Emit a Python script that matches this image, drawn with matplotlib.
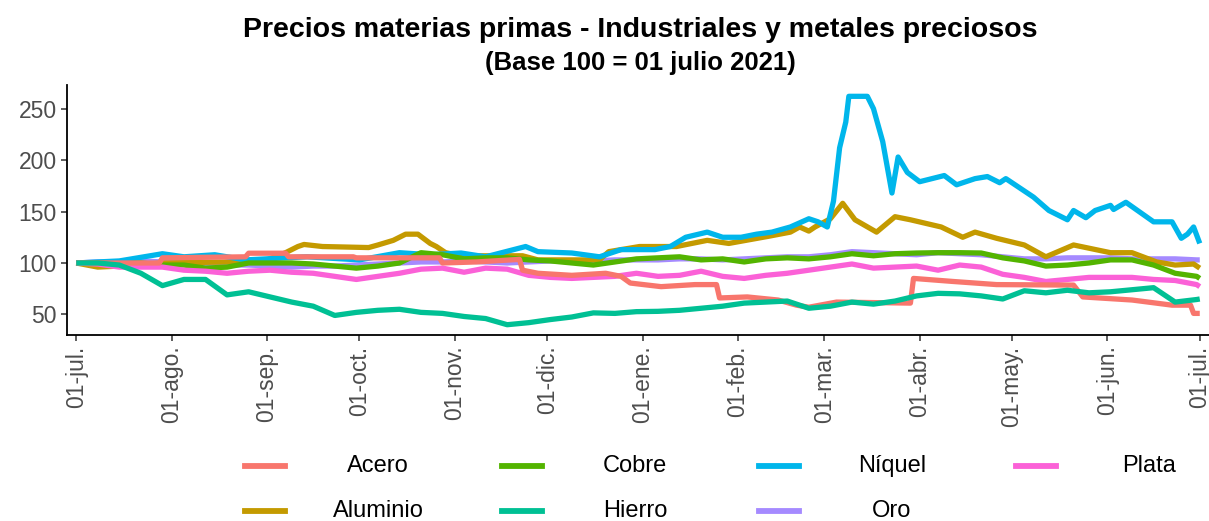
import pandas as pd
import matplotlib
matplotlib.use("Agg")
import matplotlib.pyplot as plt
from matplotlib.lines import Line2D

plt.rcParams['font.family'] = ['Liberation Sans', 'DejaVu Sans']

# ---- datos (base 100 = 01-jul-2021) ----
fechas_semana = list(pd.date_range('2021-07-01', periods=53, freq='7D')) + [pd.Timestamp('2022-07-01')]

hierro = [100, 100, 98, 90, 78, 84, 84, 69, 72, 67,
          62, 58, 49, 52, 54, 55, 52, 51, 48, 46,
          40, 42, 45, 47.5, 51.5, 51, 52.7, 53, 54, 56,
          58, 61, 62, 63, 56, 58, 62, 60, 63, 68,
          70.5, 70, 68, 65, 73, 71, 73.5, 71, 72, 74,
          76, 62, 64.5, 65]

cobre = [100, 100, 99, 100, 98, 98, 95, 96, 100, 100,
         100, 99, 97, 95, 97, 100, 110, 108, 104, 105,
         105, 103, 102, 100, 98, 101, 104, 105, 106, 103,
         104, 101, 104, 105, 104, 106, 109, 107, 109, 109.7,
         110, 110, 109.7, 105, 102, 97, 98, 100, 103, 103,
         98, 90, 87, 85]

oro = [100, 101, 101, 102, 101, 100, 99, 98, 98, 97,
       96, 97, 97, 98, 99, 100, 101, 101, 102, 101,
       100, 101, 102, 102, 102, 103, 103, 103, 104, 104,
       103, 104, 105, 106, 106, 108, 111, 110, 109, 108,
       110, 109, 108, 106, 104, 104, 105, 105, 105, 104,
       104, 104, 103, 103]

plata = [100, 99, 96, 96, 96, 93, 92, 90, 92, 93,
         91, 90, 87, 84, 87, 90, 94, 95, 91, 95,
         94, 88, 86, 85, 86, 87, 90, 87, 88, 92,
         87, 85, 88, 90, 93, 96, 99, 95, 96, 97,
         93, 98, 96, 89, 86, 82, 84, 86, 86, 86,
         84, 83, 79, 77]

fechas_acero = ['2021-07-01', '2021-07-28', '2021-07-29', '2021-08-25', '2021-08-26',
                '2021-09-07', '2021-09-08', '2021-09-29', '2021-09-30', '2021-10-27',
                '2021-10-28', '2021-11-08', '2021-11-22', '2021-11-23', '2021-11-28',
                '2021-12-09', '2021-12-20', '2021-12-25', '2021-12-28', '2022-01-07',
                '2022-01-18', '2022-01-25', '2022-01-26', '2022-02-04', '2022-02-14',
                '2022-02-20', '2022-02-24', '2022-03-05', '2022-03-29', '2022-03-30',
                '2022-04-12', '2022-04-26', '2022-05-21', '2022-05-24', '2022-06-09',
                '2022-06-22', '2022-06-28', '2022-06-29', '2022-07-01']
acero = [100, 100, 105, 106, 109.5,
         109.5, 106, 106, 105, 105,
         100, 101, 103.5, 93, 90,
         88, 90, 87, 80.5, 77,
         79, 79, 66, 67, 64,
         59, 57, 62, 61, 85,
         82, 79, 78.5, 67, 64,
         59, 59, 51, 51]

fechas_aluminio = ['2021-07-01', '2021-07-08', '2021-07-15', '2021-07-29', '2021-08-20',
                   '2021-09-01', '2021-09-07', '2021-09-11', '2021-09-13', '2021-09-19',
                   '2021-10-04', '2021-10-07', '2021-10-12', '2021-10-16', '2021-10-20',
                   '2021-10-24', '2021-10-26', '2021-10-29', '2021-11-03', '2021-11-23',
                   '2021-11-28', '2021-12-18', '2021-12-21', '2021-12-31', '2022-01-12',
                   '2022-01-22', '2022-01-29', '2022-02-11', '2022-02-18', '2022-02-21',
                   '2022-02-24', '2022-02-26', '2022-03-03', '2022-03-07', '2022-03-09',
                   '2022-03-11', '2022-03-18', '2022-03-24', '2022-03-29', '2022-04-08',
                   '2022-04-15', '2022-04-19', '2022-04-26', '2022-05-05', '2022-05-12',
                   '2022-05-21', '2022-06-02', '2022-06-09', '2022-06-17', '2022-06-23',
                   '2022-06-29', '2022-07-01']
aluminio = [100, 96, 97, 100, 101,
            103, 110, 116, 118, 116,
            115, 117.5, 122, 128, 128,
            119, 116, 110, 107, 107,
            103, 103, 111, 116, 116,
            122, 119, 126, 130, 135,
            131, 135, 143, 158, 150,
            142, 130, 145, 142, 135,
            125, 130, 124, 117.5, 106,
            117.5, 110, 110, 101, 98,
            99, 95]

fechas_niquel = ['2021-07-01', '2021-07-15', '2021-07-29', '2021-08-05', '2021-08-15',
                 '2021-08-25', '2021-09-14', '2021-10-01', '2021-10-14', '2021-10-24',
                 '2021-11-03', '2021-11-11', '2021-11-24', '2021-11-28', '2021-12-09',
                 '2021-12-18', '2021-12-25', '2022-01-05', '2022-01-10', '2022-01-15',
                 '2022-01-22', '2022-01-27', '2022-02-02', '2022-02-07', '2022-02-12',
                 '2022-02-18', '2022-02-24', '2022-02-27', '2022-03-02', '2022-03-04',
                 '2022-03-06', '2022-03-08', '2022-03-09', '2022-03-15', '2022-03-17',
                 '2022-03-20', '2022-03-23', '2022-03-25', '2022-03-28', '2022-04-01',
                 '2022-04-09', '2022-04-13', '2022-04-19', '2022-04-23', '2022-04-27',
                 '2022-04-29', '2022-05-08', '2022-05-13', '2022-05-19', '2022-05-21',
                 '2022-05-25', '2022-05-28', '2022-06-02', '2022-06-03', '2022-06-07',
                 '2022-06-16', '2022-06-22', '2022-06-25', '2022-06-27', '2022-06-29',
                 '2022-07-01']
niquel = [100, 102, 109, 106, 108,
          103, 106, 103, 110, 108,
          109.7, 106, 116, 111, 109.7,
          106, 113, 113, 116, 125,
          130, 125, 125, 128, 130,
          135, 143, 140, 135, 160,
          212, 237, 262, 262, 250,
          218, 168, 203, 188, 179,
          185, 176, 182, 184, 178,
          182, 164, 151, 142, 151,
          144, 151, 156, 152, 159,
          140, 140, 124, 128, 135,
          119]

ticks_fechas = pd.date_range('2021-07-01', '2022-07-01', freq='MS')
ticks_etiquetas = ['01-jul.', '01-ago.', '01-sep.', '01-oct.', '01-nov.', '01-dic.', '01-ene.',
                   '01-feb.', '01-mar.', '01-abr.', '01-may.', '01-jun.', '01-jul.']

# (nombre, fechas, valores, color, orden de dibujo)
series = [
    ('Acero', pd.to_datetime(fechas_acero), acero, '#F8766D', 6),
    ('Aluminio', pd.to_datetime(fechas_aluminio), aluminio, '#C49A00', 2),
    ('Cobre', fechas_semana, cobre, '#53B400', 4),
    ('Hierro', fechas_semana, hierro, '#00C094', 7),
    ('Níquel', pd.to_datetime(fechas_niquel), niquel, '#00B6EB', 3),
    ('Oro', fechas_semana, oro, '#A58AFF', 1),
    ('Plata', fechas_semana, plata, '#FB61D7', 5),
]
orden_leyenda = ['Acero', 'Cobre', 'Níquel', 'Plata', 'Aluminio', 'Hierro', 'Oro']
colores = {s[0]: s[3] for s in series}

W, H = 1209, 521
fig = plt.figure(figsize=(W / 100, H / 100), dpi=100)
ax = fig.add_axes([67 / W, 1 - 335 / H, (W - 67) / W, (335 - 85) / H])

for nombre, x, y, color, z in series:
    ax.plot(x, y, color=color, lw=3.8, solid_capstyle='butt', solid_joinstyle='round', zorder=2 + z)

ax.set_xlim(pd.Timestamp('2021-06-28'), pd.Timestamp('2022-07-04'))
ax.set_ylim(30, 273)
ax.set_yticks([50, 100, 150, 200, 250])
ax.set_xticks(ticks_fechas)
ax.set_xticklabels(ticks_etiquetas, rotation=90, va='top', ha='center')
ax.tick_params(axis='both', colors='#333333', labelcolor='#4D4D4D', labelsize=16.5,
               length=4, width=1.1)
for s in ['top', 'right']:
    ax.spines[s].set_visible(False)
for s in ['left', 'bottom']:
    ax.spines[s].set_linewidth(1.3)
    ax.spines[s].set_color('black')

fig.text(640 / W, 1 - 30 / H, 'Precios materias primas - Industriales y metales preciosos',
         ha='center', va='center', fontsize=20.5, fontweight='bold')
fig.text(640 / W, 1 - 63 / H, '(Base 100 = 01 julio 2021)',
         ha='center', va='center', fontsize=18.5, fontweight='bold')

# leyenda manual: 4 columnas, 2 filas
for i, nombre in enumerate(orden_leyenda):
    fila, col = divmod(i, 4)
    xc = 265 + 257 * col
    yc = 466 + 45 * fila
    fig.add_artist(Line2D([(xc - 20) / W, (xc + 20) / W], [1 - yc / H, 1 - yc / H],
                          transform=fig.transFigure, color=colores[nombre], lw=4.2))
    fig.text((xc + 113) / W, 1 - yc / H, nombre, ha='center', va='center', fontsize=17)

fig.savefig('out.png', dpi=100)
